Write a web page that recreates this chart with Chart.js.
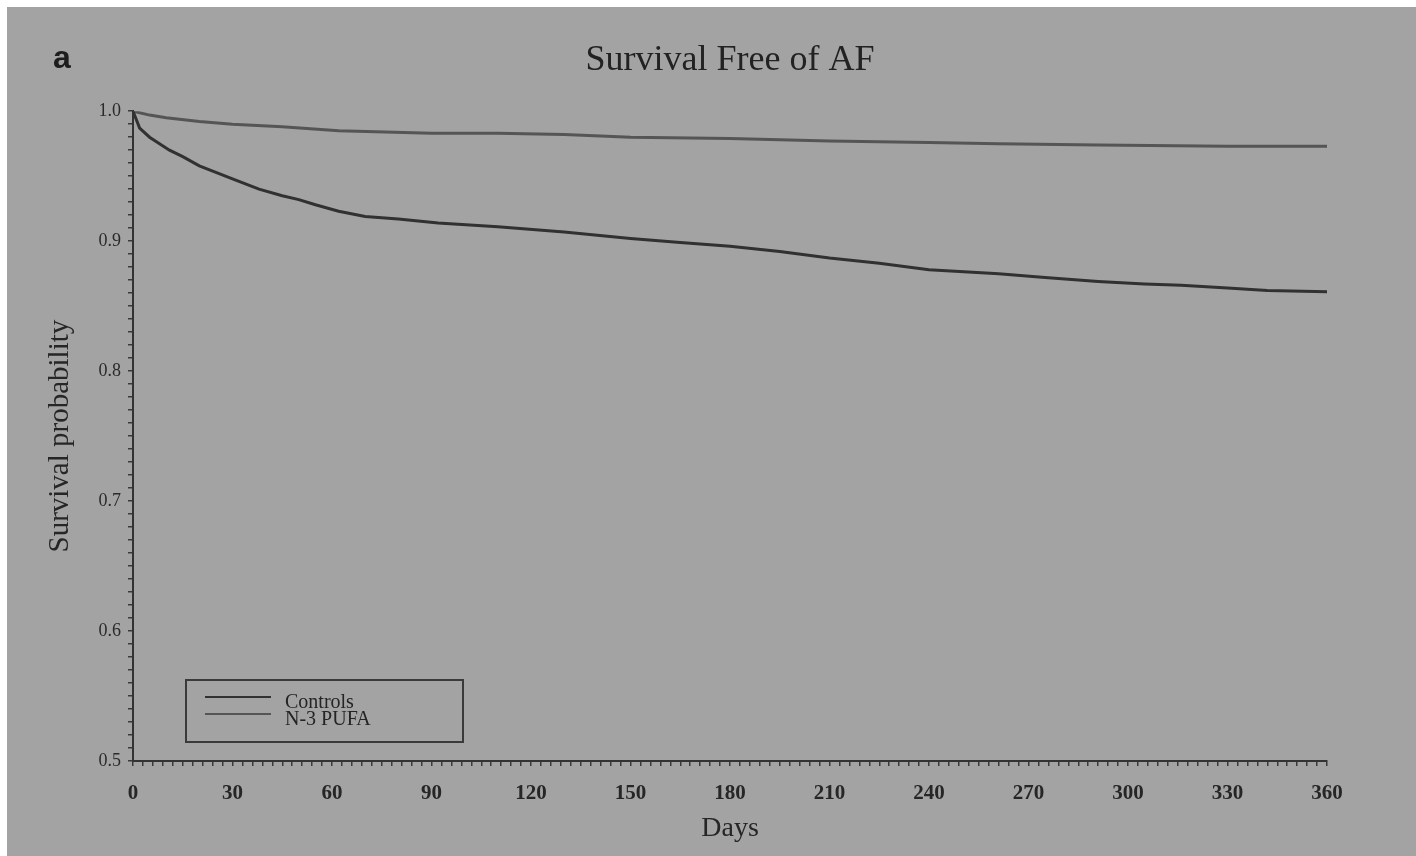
<!DOCTYPE html>
<html>
<head>
<meta charset="utf-8">
<script src="https://cdn.jsdelivr.net/npm/chart.js@4.4.1/dist/chart.umd.min.js"></script>
<style>
  body { margin: 0; background: #ffffff; }
  #wrap { position: absolute; left: 7px; top: 7px; width: 1409px; height: 849px; background: #a3a3a3; }
  #panel { position: absolute; left: 46px; top: 32px; font: bold 32px "Liberation Sans", Arial, sans-serif; color: #1e1e1e; }
  #legend {
    position: absolute; left: 178px; top: 672px; width: 279px; height: 64px;
    box-sizing: border-box; border: 2px solid #3a3a3a;
    font: 20px "Liberation Serif", "Times New Roman", serif; color: #242424;
  }
  .row { position: absolute; left: 18px; height: 18px; line-height: 18px; }
  .row span.swatch { display: inline-block; width: 66px; height: 0; vertical-align: middle; margin-right: 14px; position: relative; top: -6px; }
</style>
</head>
<body>
<div id="wrap">
  <canvas id="kmChart" width="1409" height="849"></canvas>
  <div id="panel">a</div>
  <div id="legend"></div>
</div>
<script>
// Kaplan-Meier estimates
const controlDays = [0, 2, 5, 8, 11, 15, 20, 25, 30, 38, 45, 50, 55, 62, 70, 80, 92, 110, 130, 150, 165, 180, 195, 210, 225, 240, 261, 275, 291, 305, 316, 330, 342, 360];
const controlSurv = [1.0, 0.987, 0.980, 0.975, 0.970, 0.965, 0.958, 0.953, 0.948, 0.940, 0.935, 0.932, 0.928, 0.923, 0.919, 0.917, 0.914, 0.911, 0.907, 0.902, 0.899, 0.896, 0.892, 0.887, 0.883, 0.878, 0.875, 0.872, 0.869, 0.867, 0.866, 0.864, 0.862, 0.861];

const pufaDays = [0, 5, 10, 20, 30, 45, 62, 90, 110, 130, 150, 180, 210, 240, 261, 291, 330, 360];
const pufaSurv = [1.0, 0.997, 0.995, 0.992, 0.990, 0.988, 0.985, 0.983, 0.983, 0.982, 0.980, 0.979, 0.977, 0.976, 0.975, 0.974, 0.973, 0.973];

const seriesLabels = ['Controls', 'N-3 PUFA'];
const seriesColors = ['#313131', '#555555'];

const xMajor = 30;   // labelled every 30 days
const yMajor = 0.1;

function toPoints(xs, ys) {
    return xs.map((x, i) => ({ x: x, y: ys[i] }));
}

// legend box drawn inside the plot, bottom left
const legendEl = document.getElementById('legend');
seriesLabels.forEach((label, i) => {
    const row = document.createElement('div');
    row.className = 'row';
    row.style.top = (i === 0 ? 11 : 28) + 'px';
    row.innerHTML = '<span class="swatch" style="border-top:2px solid ' + seriesColors[i] + '"></span>' + label;
    legendEl.appendChild(row);
});

const serif = '"Liberation Serif", "Times New Roman", serif';

// pin the plot area to where it sits in the figure
const fixAxes = {
    id: 'fixAxes',
    beforeInit(chart) {
        chart.options.scales.x.afterFit = (scale) => { scale.height = 95; };
        chart.options.scales.y.afterFit = (scale) => { scale.width = 126; };
    }
};

const ctx = document.getElementById('kmChart').getContext('2d');
const kmChart = new Chart(ctx, {
    type: 'scatter',
    data: {
        datasets: [{
            label: seriesLabels[0],
            data: toPoints(controlDays, controlSurv),
            showLine: true,
            borderColor: seriesColors[0],
            borderWidth: 3,
            pointRadius: 0,
            tension: 0
        },
        {
            label: seriesLabels[1],
            data: toPoints(pufaDays, pufaSurv),
            showLine: true,
            borderColor: seriesColors[1],
            borderWidth: 3,
            pointRadius: 0,
            tension: 0
        }]
    },
    options: {
        responsive: false,
        animation: false,
        layout: { padding: { left: 0, right: 89, top: 0, bottom: 0 } },
        plugins: {
            legend: { display: false },
            tooltip: { enabled: false },
            title: {
                display: true,
                text: 'Survival Free of AF',
                fullSize: false,
                color: '#222222',
                font: { family: serif, size: 36, weight: 'normal' },
                padding: { top: 32, bottom: 29 }
            }
        },
        scales: {
            x: {
                type: 'linear',
                min: 0,
                max: 360,
                border: { display: true, color: '#333333', width: 2 },
                grid: { display: true, drawOnChartArea: false, tickLength: 5, color: '#3a3a3a', lineWidth: 1.5 },
                ticks: {
                    stepSize: 3,
                    autoSkip: false,
                    maxRotation: 0,
                    padding: 15,
                    color: '#262626',
                    font: { family: serif, size: 21, weight: 'bold' },
                    callback: (v) => (Math.round(v) % xMajor === 0 ? String(Math.round(v)) : '')
                },
                title: {
                    display: true,
                    text: 'Days',
                    color: '#262626',
                    font: { family: serif, size: 28 },
                    padding: { top: 0, bottom: 11 }
                }
            },
            y: {
                type: 'linear',
                min: 0.5,
                max: 1.0,
                border: { display: true, color: '#333333', width: 2 },
                grid: { display: true, drawOnChartArea: false, tickLength: 5, color: '#3a3a3a', lineWidth: 1.5 },
                ticks: {
                    stepSize: 0.01,
                    autoSkip: false,
                    padding: 7,
                    color: '#2a2a2a',
                    font: { family: serif, size: 18 },
                    callback: (v) => (Math.round(v * 100) % Math.round(yMajor * 100) === 0 ? v.toFixed(1) : '')
                },
                title: {
                    display: true,
                    text: 'Survival probability',
                    color: '#262626',
                    font: { family: serif, size: 29 },
                    padding: { top: 36, bottom: 0 }
                }
            }
        }
    },
    plugins: [fixAxes]
});
</script>
</body>
</html>
